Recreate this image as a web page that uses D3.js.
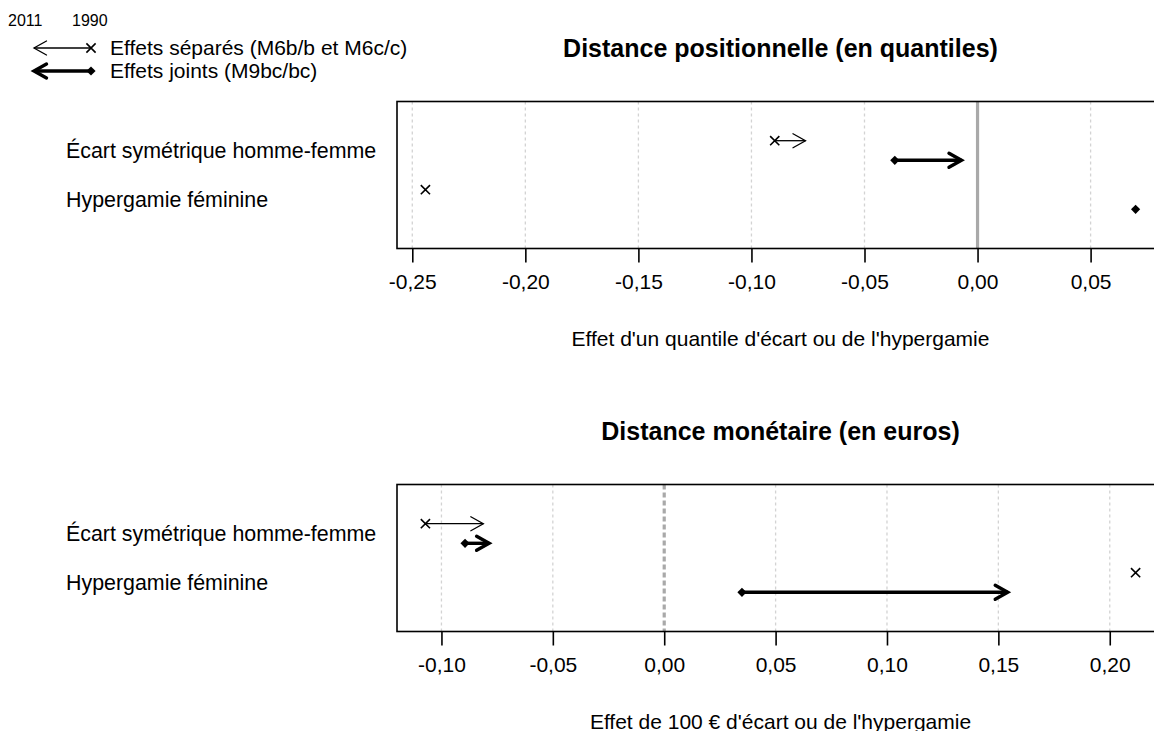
<!DOCTYPE html>
<html>
<head>
<meta charset="utf-8">
<script src="https://cdn.jsdelivr.net/npm/d3@7"></script>
<style>
  body { margin: 0; background: #fff; }
  text { font-family: "Liberation Sans", Arial, sans-serif; fill: #000; }
</style>
</head>
<body>
<script>
// data
var rowLabels = ["Écart symétrique homme-femme", "Hypergamie féminine"];

// distance positionnelle (quantiles)
var qSep1990   = [-0.0897, -0.2442];
var qSep2011   = [-0.0761, null];
var qJoint1990 = [-0.0366, 0.0699];
var qJoint2011 = [-0.0071, null];
var qTicks = [-0.25, -0.20, -0.15, -0.10, -0.05, 0.00, 0.05];

// distance monétaire (euros)
var eSep1990   = [-0.1072, 0.2116];
var eSep2011   = [-0.0812, null];
var eJoint1990 = [-0.0894, 0.0349];
var eJoint2011 = [-0.0786, 0.1542];
var eTicks = [-0.10, -0.05, 0.00, 0.05, 0.10, 0.15, 0.20];

var W = 1154, H = 731;
var left = 397, right = 1164, boxH = 147;

var svg = d3.select("body").append("svg")
  .attr("width", W)
  .attr("height", H);

var fmt = function(v) { return v.toFixed(2).replace(".", ","); };

// little marker helpers
function cross(g, x, y) {
  var s = 4.6;
  g.append("path")
    .attr("d", "M" + (x - s) + "," + (y - s) + "L" + (x + s) + "," + (y + s) +
               "M" + (x - s) + "," + (y + s) + "L" + (x + s) + "," + (y - s))
    .attr("stroke", "#000").attr("stroke-width", 1.6).attr("fill", "none");
}
function diamond(g, x, y) {
  var s = 4.6;
  g.append("path")
    .attr("d", "M" + x + "," + (y - s) + "L" + (x + s) + "," + y +
               "L" + x + "," + (y + s) + "L" + (x - s) + "," + y + "Z")
    .attr("fill", "#000");
}
function arrow(g, x0, x1, y, lw) {
  g.append("line")
    .attr("x1", x0).attr("x2", x1).attr("y1", y).attr("y2", y)
    .attr("stroke", "#000").attr("stroke-width", lw);
  var dir = x1 > x0 ? 1 : -1, len = 12.5, hw = 7;
  g.append("path")
    .attr("d", "M" + (x1 - dir * len) + "," + (y - hw) + "L" + x1 + "," + y +
               "L" + (x1 - dir * len) + "," + (y + hw))
    .attr("fill", "none").attr("stroke", "#000").attr("stroke-width", lw)
    .attr("stroke-linejoin", "miter").attr("stroke-linecap", "round");
}

function drawPanel(top, title, axisTitle, ticks, sep1990, sep2011, joint1990, joint2011, zeroDash) {
  var all = sep1990.concat(sep2011, joint1990, joint2011).filter(function(d) { return d != null; });
  var ext = d3.extent(all), pad = (ext[1] - ext[0]) * 0.04;
  var xScale = d3.scaleLinear().domain([ext[0] - pad, ext[1] + pad]).range([left, right]);
  var yScale = d3.scaleLinear().domain([0, 3]).range([top, top + boxH]);

  var g = svg.append("g");

  // grid
  g.selectAll(".grid").data(ticks.filter(function(t) { return t !== 0; }))
    .enter().append("line")
    .attr("x1", function(d) { return xScale(d); })
    .attr("x2", function(d) { return xScale(d); })
    .attr("y1", top).attr("y2", top + boxH)
    .attr("stroke", "#d3d3d3").attr("stroke-width", 1.3)
    .attr("stroke-dasharray", "3,3");

  // zero line
  g.append("line")
    .attr("x1", xScale(0)).attr("x2", xScale(0))
    .attr("y1", top).attr("y2", top + boxH)
    .attr("stroke", "#a9a9a9").attr("stroke-width", 3.2)
    .attr("stroke-dasharray", zeroDash ? "5,3" : null);

  // box
  g.append("rect")
    .attr("x", left).attr("y", top).attr("width", right - left).attr("height", boxH)
    .attr("fill", "none").attr("stroke", "#000").attr("stroke-width", 1.6);

  // x axis
  var xAxis = d3.axisBottom(xScale).tickValues(ticks).tickFormat(fmt)
    .tickSize(14).tickPadding(12);
  var ax = g.append("g")
    .attr("transform", "translate(0," + (top + boxH) + ")")
    .call(xAxis);
  ax.select(".domain").remove();
  ax.selectAll(".tick line").attr("stroke", "#000").attr("stroke-width", 1.6);
  ax.selectAll(".tick text")
    .attr("font-family", "Liberation Sans, Arial, sans-serif")
    .attr("font-size", 21).attr("fill", "#000");

  // row labels
  g.selectAll(".rowlab").data(rowLabels).enter().append("text")
    .attr("x", 66)
    .attr("y", function(d, i) { return yScale(i + 1); })
    .attr("dy", "0.35em")
    .attr("font-size", 21.4)
    .text(function(d) { return d; });

  // separate effects (thin)
  rowLabels.forEach(function(r, i) {
    var y = yScale(i + 1 - 0.2);
    if (sep2011[i] != null) arrow(g, xScale(sep1990[i]), xScale(sep2011[i]), y, 1.3);
    cross(g, xScale(sep1990[i]), y);
  });
  // joint effects (thick)
  rowLabels.forEach(function(r, i) {
    var y = yScale(i + 1 + 0.2);
    if (joint2011[i] != null) arrow(g, xScale(joint1990[i]), xScale(joint2011[i]), y, 3.4);
    diamond(g, xScale(joint1990[i]), y);
  });

  // titles
  g.append("text")
    .attr("x", (left + right) / 2).attr("y", top - 45)
    .attr("text-anchor", "middle")
    .attr("font-size", 25).attr("font-weight", "bold")
    .text(title);
  g.append("text")
    .attr("x", (left + right) / 2).attr("y", top + boxH + 97)
    .attr("text-anchor", "middle")
    .attr("font-size", 21)
    .text(axisTitle);
}

drawPanel(101.5, "Distance positionnelle (en quantiles)",
  "Effet d'un quantile d'écart ou de l'hypergamie",
  qTicks, qSep1990, qSep2011, qJoint1990, qJoint2011, false);

drawPanel(484.5, "Distance monétaire (en euros)",
  "Effet de 100 € d'écart ou de l'hypergamie",
  eTicks, eSep1990, eSep2011, eJoint1990, eJoint2011, true);

// legend
var lg = svg.append("g");
lg.append("text").attr("x", 8).attr("y", 26).attr("font-size", 16).text("2011");
lg.append("text").attr("x", 72).attr("y", 26).attr("font-size", 16).text("1990");
arrow(lg, 91, 34, 48, 1.3);
cross(lg, 91, 48);
arrow(lg, 91, 34, 71, 3.4);
diamond(lg, 91, 71);
lg.append("text").attr("x", 110).attr("y", 48).attr("dy", "0.35em")
  .attr("font-size", 21).text("Effets séparés (M6b/b et M6c/c)");
lg.append("text").attr("x", 110).attr("y", 71).attr("dy", "0.35em")
  .attr("font-size", 21).text("Effets joints (M9bc/bc)");
</script>
</body>
</html>
